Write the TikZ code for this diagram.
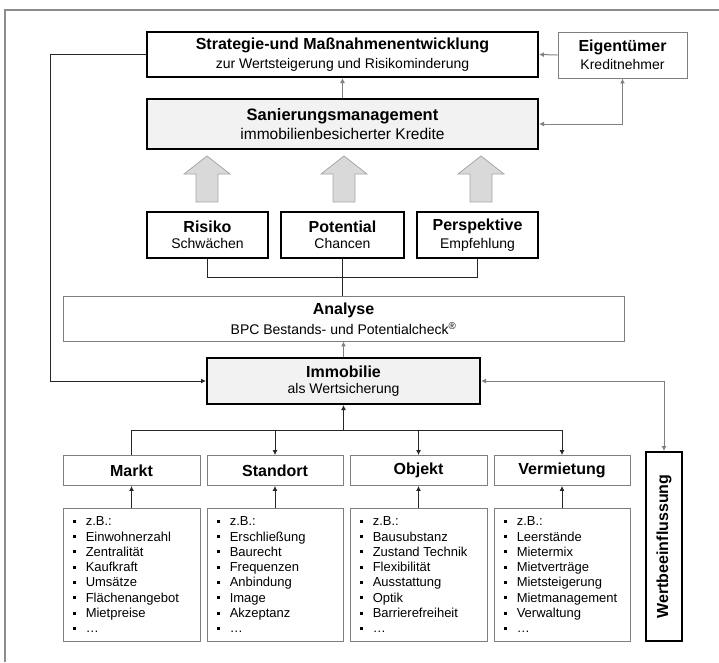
\documentclass[tikz,border=0pt]{standalone}
\usepackage{fontspec}
\setmainfont{Liberation Sans}
\usetikzlibrary{arrows.meta,calc}
\definecolor{framegray}{HTML}{8C8C8C}
\definecolor{linegray}{HTML}{808080}
\definecolor{boxgray}{HTML}{7F7F7F}
\definecolor{lightfill}{HTML}{F2F2F2}
\definecolor{arrowfill}{HTML}{D9D9D9}
\definecolor{arrowline}{HTML}{A6A6A6}
\newcommand{\ttl}{\fontsize{16}{18}\selectfont\bfseries}
\newcommand{\sbt}{\fontsize{14}{16}\selectfont}
\newcommand{\lst}{\fontsize{13}{15.3}\selectfont}
\newcommand{\bul}{\rule[3pt]{3pt}{3pt}\hspace{10pt}}
\begin{document}
\begin{tikzpicture}[x=1pt,y=-1pt,
  tip/.tip={Latex[length=5pt,width=5pt]},
  thickbox/.style={draw=black,line width=2pt,inner sep=0pt,align=center},
  thinbox/.style={draw=boxgray,line width=0.9pt,inner sep=0pt,align=center},
  gline/.style={draw=linegray,line width=1pt},
  bline/.style={draw=black!85,line width=0.9pt},
  blockarrow/.style={fill=arrowfill,draw=arrowline,line width=0.8pt},
  listtext/.style={anchor=north west,inner sep=0pt,align=left,font=\lst}
]
\useasboundingbox (0,0) rectangle (719,662);
% frame
\draw[framegray,line width=1.5pt] (5,662) -- (5,10) -- (719,10);

% top row
\node[thickbox,minimum width=391pt,minimum height=45pt] (strat) at (342.5,54.5)
  {{\ttl Strategie-und Maßnahmenentwicklung}\\[4pt]{\sbt zur Wertsteigerung und Risikominderung}};
\node[thinbox,minimum width=129pt,minimum height=46pt] (eig) at (622.5,55)
  {{\ttl Eigentümer}\\[4pt]{\sbt Kreditnehmer}};
\node[thickbox,fill=lightfill,minimum width=391pt,minimum height=50pt] (san) at (342.5,124)
  {{\fontsize{16.5}{18}\selectfont\bfseries Sanierungsmanagement}\\[4pt]{\fontsize{15.5}{17}\selectfont immobilienbesicherter Kredite}};

\draw[gline,-tip] (eig.west) -- (strat.east);
\draw[gline,-tip] (san.north) -- (strat.south);
\draw[gline,tip-tip] (san.east) -| (eig.south);

% block arrows
\foreach \cx in {207,344,481}{
  \draw[blockarrow] (\cx-11,202) -- (\cx-11,174) -- (\cx-23,174) -- (\cx,156)
     -- (\cx+23,174) -- (\cx+11,174) -- (\cx+11,202) -- cycle;
}

% three boxes
\node[thickbox,minimum width=121pt,minimum height=46pt] (ris) at (207.5,235)
  {{\ttl Risiko}\\[4pt]{\sbt Schwächen}};
\node[thickbox,minimum width=123pt,minimum height=46pt] (pot) at (342.5,235)
  {{\ttl Potential}\\[4pt]{\sbt Chancen}};
\node[thickbox,minimum width=121pt,minimum height=46pt] (per) at (477.5,235)
  {{\ttl Perspektive}\\[4pt]{\sbt Empfehlung}};

\node[thinbox,minimum width=561pt,minimum height=45pt] (ana) at (343.5,318.5)
  {{\ttl Analyse}\\[4pt]{\sbt BPC Bestands- und Potentialcheck\textsuperscript{®}}};

\draw[bline] (ris.south) -- ++(0,18) -| (per.south);
\draw[bline] (pot.south) -- (pot.south |- ana.north);

\node[thickbox,fill=lightfill,minimum width=273pt,minimum height=46pt] (imm) at (343.5,381)
  {{\ttl Immobilie}\\[4pt]{\sbt als Wertsicherung}};
\draw[gline,-tip] (imm.north) -- (imm.north |- ana.south);

% left loop
\coordinate (lc) at (50,0);
\draw[bline,-tip] (strat.west) -| (lc |- imm.west) -- (imm.west);

% Wertbeeinflussung
\node[thickbox,rotate=90,minimum width=189pt,minimum height=36pt] (wert) at (664,546.5)
  {\fontsize{16}{18}\selectfont\bfseries Wertbeeinflussung};
\draw[gline,tip-tip] (imm.east) -| (wert.east);

% categories
\node[thinbox,minimum width=137pt,minimum height=30pt] (markt) at (131.5,470.5)
  {\fontsize{16}{18}\selectfont\bfseries Markt};
\node[thinbox,minimum width=136pt,minimum height=30pt] (stand) at (275,470.5)
  {\fontsize{16}{18}\selectfont\bfseries Standort};
\node[thinbox,minimum width=137pt,minimum height=30pt] (obj) at (418.5,470.5)
  {\fontsize{16}{18}\selectfont\bfseries Objekt};
\node[thinbox,minimum width=136pt,minimum height=30pt] (verm) at (562,470.5)
  {\fontsize{16}{18}\selectfont\bfseries Vermietung};

\coordinate (hub) at (343.5,430);
\draw[bline,tip-] (imm.south) -- (hub);
\draw[bline] (markt.north) -- (markt.north |- hub) -- (verm.north |- hub);
\draw[bline,-tip] (stand.north |- hub) -- (stand.north);
\draw[bline,-tip] (obj.north |- hub) -- (obj.north);
\draw[bline,-tip] (verm.north |- hub) -- (verm.north);

% lists
\node[thinbox,minimum width=137pt,minimum height=133pt] (l1) at (131.5,574.5) {};
\node[thinbox,minimum width=136pt,minimum height=133pt] (l2) at (275,574.5) {};
\node[thinbox,minimum width=137pt,minimum height=133pt] (l3) at (418.5,574.5) {};
\node[thinbox,minimum width=136pt,minimum height=133pt] (l4) at (562,574.5) {};

\node[listtext] (t1) at ($(l1.north west)+(10,9)$)
  {\bul z.B.:\\\bul Einwohnerzahl\\\bul Zentralität\\\bul Kaufkraft\\\bul Umsätze\\\bul Flächenangebot\\\bul Mietpreise\\\bul …};
\node[listtext] (t2) at ($(l2.north west)+(10,9)$)
  {\bul z.B.:\\\bul Erschließung\\\bul Baurecht\\\bul Frequenzen\\\bul Anbindung\\\bul Image\\\bul Akzeptanz\\\bul …};
\node[listtext] (t3) at ($(l3.north west)+(10,9)$)
  {\bul z.B.:\\\bul Bausubstanz\\\bul Zustand Technik\\\bul Flexibilität\\\bul Ausstattung\\\bul Optik\\\bul Barrierefreiheit\\\bul …};
\node[listtext] (t4) at ($(l4.north west)+(10,9)$)
  {\bul z.B.:\\\bul Leerstände\\\bul Mietermix\\\bul Mietverträge\\\bul Mietsteigerung\\\bul Mietmanagement\\\bul Verwaltung\\\bul …};

\draw[bline,-tip] (l1.north) -- (markt.south);
\draw[bline,-tip] (l2.north) -- (stand.south);
\draw[bline,-tip] (l3.north) -- (obj.south);
\draw[bline,-tip] (l4.north) -- (verm.south);
\end{tikzpicture}
\end{document}
